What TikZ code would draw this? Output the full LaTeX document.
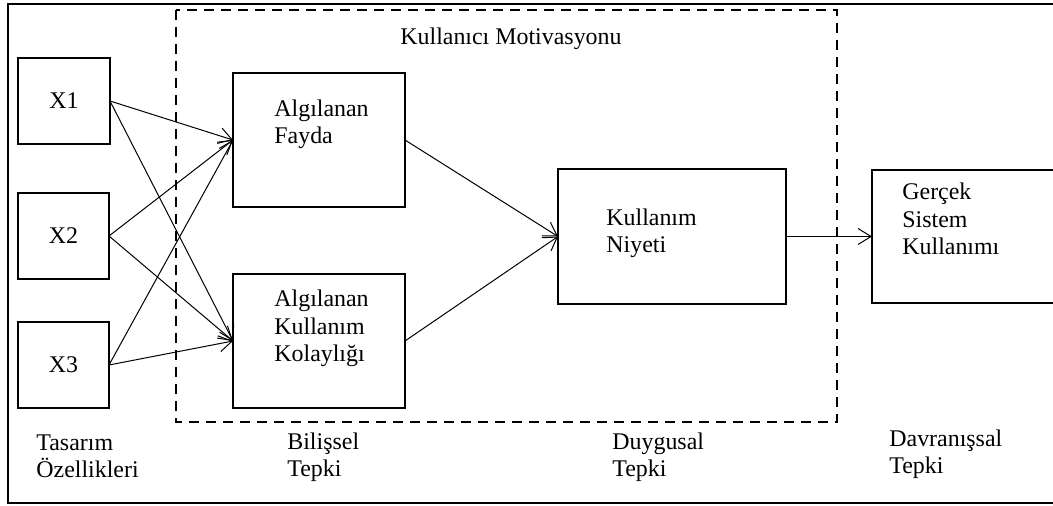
\documentclass[tikz,border=0pt]{standalone}
\usepackage{fontspec}
\setmainfont{Liberation Serif}
\usetikzlibrary{arrows.meta}

\begin{document}
\begin{tikzpicture}[x=0.5bp,y=-0.5bp,>={Straight Barb[length=6.5bp,width=8bp]},
  box/.style={draw,line width=1.4bp,inner sep=0pt,outer sep=0pt,font=\fontsize{12}{13.8}\selectfont},
  txt/.style={anchor=base west,align=left,inner sep=0pt,font=\fontsize{12}{13.8}\selectfont},
  link/.style={->,line width=0.5bp}]
  \useasboundingbox (0,0) rectangle (1053,506);
  \clip (0,0) rectangle (1053,506);
  \draw[line width=0.8bp] (1060,4)--(8,4)--(8,503)--(1060,503);
  \draw[line width=1.3bp,dash pattern=on 5bp off 3.5bp] (176,10) rectangle (837,422);
  \node[txt] (motiv) at (400,45) {Kullanıcı Motivasyonu};
  \node[box,minimum width=46bp,minimum height=43bp] (X1) at (64,101) {X1};
  \node[box,minimum width=45.5bp,minimum height=43bp] (X2) at (63.5,236) {X2};
  \node[box,minimum width=45.5bp,minimum height=43bp] (X3) at (63.5,365) {X3};
  \node[box,minimum width=86bp,minimum height=67bp] (fayda) at (319,140) {};
  \node[box,minimum width=86bp,minimum height=67bp] (kolay) at (319,341) {};
  \node[box,minimum width=114bp,minimum height=67.5bp] (niyet) at (672,236.5) {};
  \node[box,minimum width=99bp,minimum height=66.5bp] (gercek) at (971,236.5) {};
  \node[txt] (tfayda) at (274,144) {Algılanan\\Fayda};
  \node[txt] (tkolay) at (274,362) {Algılanan\\Kullanım\\Kolaylığı};
  \node[txt] (tniyet) at (606,253) {Kullanım\\Niyeti};
  \node[txt] (tgercek) at (902,255) {Gerçek\\Sistem\\Kullanımı};
  \node[txt] (tasarim) at (36,478) {Tasarım\\Özellikleri};
  \node[txt] (bilissel) at (287,477) {Bilişsel\\Tepki};
  \node[txt] (duygusal) at (612,477) {Duygusal\\Tepki};
  \node[txt] (davranis) at (889,474) {Davranışsal\\Tepki};
  \draw[link] (X1.east)--(fayda.west);
  \draw[link] (X1.east)--(kolay.west);
  \draw[link] (X2.east)--(fayda.west);
  \draw[link] (X2.east)--(kolay.west);
  \draw[link] (X3.east)--(fayda.west);
  \draw[link] (X3.east)--(kolay.west);
  \draw[link] (fayda.east)--(niyet.west);
  \draw[link] (kolay.east)--(niyet.west);
  \draw[link] (niyet.east)--(gercek.west);
\end{tikzpicture}
\end{document}
